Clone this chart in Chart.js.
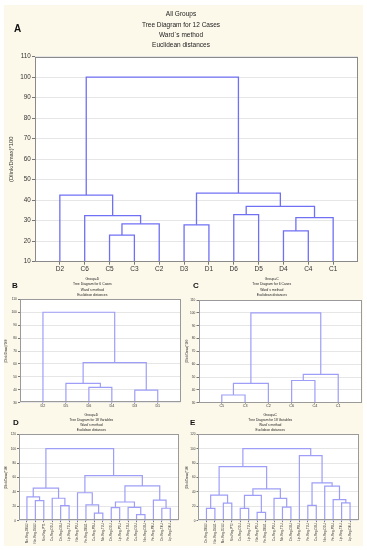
<!DOCTYPE html>
<html><head><meta charset="utf-8">
<script src="https://cdn.jsdelivr.net/npm/chart.js@4.4.0/dist/chart.umd.min.js"></script>
<style>
html,body{margin:0;padding:0;background:#fff;width:367px;height:550px;overflow:hidden;}
#bg{position:absolute;left:4px;top:5px;width:359px;height:541px;background:#fcf8ea;}
.cv{position:absolute;}
.cv canvas{display:block;}
.lbl{position:absolute;font-family:"Liberation Sans",Arial,sans-serif;font-weight:bold;color:#111;line-height:1;}
</style></head><body>
<div id="bg"></div>
<div class="cv" style="left:4px;top:5px"><canvas id="cA" width="359" height="273"></canvas></div>
<div class="cv" style="left:4px;top:274px"><canvas id="cB" width="178" height="136"></canvas></div>
<div class="cv" style="left:182px;top:274px"><canvas id="cC" width="181" height="136"></canvas></div>
<div class="cv" style="left:4px;top:408px"><canvas id="cD" width="178" height="140"></canvas></div>
<div class="cv" style="left:182px;top:408px"><canvas id="cE" width="181" height="140"></canvas></div>
<div class="lbl" style="left:14px;top:23.5px;font-size:10px">A</div>
<div class="lbl" style="left:12px;top:282px;font-size:8px">B</div>
<div class="lbl" style="left:193px;top:282px;font-size:8px">C</div>
<div class="lbl" style="left:13px;top:419px;font-size:8px">D</div>
<div class="lbl" style="left:190px;top:419px;font-size:8px">E</div>
<script>
// ---------------- DATA ----------------
// Panel A: All Groups, 12 cases (leaf order as displayed)
const leavesA = ['D2','C6','C5','C3','C2','D3','D1','D6','D5','D4','C4','C1'];
// merges: negative = leaf number (1-based, display order), positive = earlier merge row
const mergesA = [[-3,-4],[-10,-11],[-6,-7],[1,-5],[2,-12],[-2,4],[-8,-9],[7,5],[-1,6],[3,8],[9,10]];
const heightsA = [23,25,28,28.5,31.5,32.5,33,37,42.5,43.5,100];
const yTicksA = [10,110,10];

// Panel B: Group=D, 6 cases
const leavesB = ['D2','D5','D6','D4','D3','D1'];
const mergesB = [[-5,-6],[-3,-4],[-2,2],[3,1],[-1,4]];
const heightsB = [39.7,41.8,45,61,100];
const yTicksB = [30,110,10];

// Panel C: Group=C, 6 cases
const leavesC = ['C5','C3','C2','C6','C4','C1'];
const mergesC = [[-1,-2],[1,-3],[-4,-5],[3,-6],[2,4]];
const heightsC = [36,45,47.3,52,100];
const yTicksC = [30,110,10];

// Panel D: Group=D, 18 variables
const leavesD = ['Mn-Reg-D0U2','Nin-Reg-D4U2','Nin-Reg-PT1','Cu-Reg-D1U','Ctr-Reg-D3U','Lip-Reg-T1U','Nin-Reg-P2U','Fe-Reg-D0U1','Cu-Reg-P3U','Mn-Reg-T2U','Ctr-Reg-D1U','Lip-Reg-P1U','Fe-Reg-T3U','Cu-Reg-D2U','Nin-Reg-D3U','Fe-Reg-P4U','Ctr-Reg-T4U','Lip-Reg-D4U'];
const mergesD = [[-14,-15],[-9,-10],[-17,-18],[-11,-12],[-13,1],[-5,-6],[-8,2],[4,5],[-2,-3],[-16,3],[-4,6],[-1,9],[-7,7],[12,11],[8,10],[13,15],[14,16]];
const heightsD = [8.5,10.4,17.3,18.2,18.6,20.8,22,26,27.8,28.6,31.2,33,38.8,45.3,48.3,62.5,100];
const yTicksD = [0,120,20];

// Panel E: Group=C, 18 variables
const leavesE = ['Ctr-Reg-D0U2','Nin-Reg-D4U1','Mn-Reg-D2U2','Nin-Reg-PT2','Cu-Reg-D1U','Lip-Reg-T2U','Nin-Reg-P1U','Fe-Reg-D0U1','Cu-Reg-P2U','Mn-Reg-T1U','Ctr-Reg-D3U','Lip-Reg-P3U','Fe-Reg-T2U','Cu-Reg-D3U','Nin-Reg-D1U','Fe-Reg-P3U','Lip-Reg-T4U','Lip-Reg-D4U'];
const mergesE = [[-7,-8],[-1,-2],[-5,-6],[-10,-11],[-13,-14],[-3,-4],[-17,-18],[-16,7],[-9,4],[3,1],[2,6],[10,9],[-15,8],[5,13],[11,12],[-12,14],[15,16]];
const heightsE = [11.5,17.2,17.2,18.9,21.2,24.5,24.7,29.2,31,35.2,35.6,44.2,48,52.5,75.2,90.5,100];
const yTicksE = [0,120,20];

const titleA = ['All Groups','Tree Diagram for 12 Cases','Ward`s method','Euclidean distances'];
const titleB = ['Group=D','Tree Diagram for 6 Cases','Ward`s method','Euclidean distances'];
const titleC = ['Group=C','Tree Diagram for 6 Cases','Ward`s method','Euclidean distances'];
const titleD = ['Group=D','Tree Diagram for 18 Variables','Ward`s method','Euclidean distances'];
const titleE = ['Group=C','Tree Diagram for 18 Variables','Ward`s method','Euclidean distances'];
const yAxisTitle = '(Dlink/Dmax)*100';

// ---------------- DRAWING ----------------
const FONT = '"Liberation Sans", Arial, sans-serif';

function buildLinks(merges, heights, yBase){
  const nodes = [];
  const pos = r => r < 0 ? {x:-r, y:yBase} : nodes[r-1];
  return merges.map((m,i)=>{
    const a = pos(m[0]), b = pos(m[1]), h = heights[i];
    nodes.push({x:(a.x+b.x)/2, y:h});
    return [{x:a.x,y:a.y},{x:a.x,y:h},{x:b.x,y:h},{x:b.x,y:b.y}];
  });
}

const framePlugin = {
  id:'frame',
  beforeDraw(c){
    const a=c.chartArea, ctx=c.ctx;
    ctx.save(); ctx.fillStyle='#ffffff';
    ctx.fillRect(a.left,a.top,a.right-a.left,a.bottom-a.top); ctx.restore();
  },
  afterDraw(c){
    const a=c.chartArea, ctx=c.ctx, o=c.options.plugins.frame||{};
    ctx.save(); ctx.strokeStyle=o.color||'#888'; ctx.lineWidth=1;
    ctx.strokeRect(Math.round(a.left)+0.5,Math.round(a.top)+0.5,Math.round(a.right-a.left)-1,Math.round(a.bottom-a.top)-1);
    ctx.restore();
  }
};

function panel(id, leaves, merges, heights, yT, titleLines, s){
  const links = buildLinks(merges, heights, yT[0]);
  new Chart(document.getElementById(id), {
    type:'scatter',
    data:{datasets: links.map(l=>({data:l, showLine:true, borderColor:s.lineColor, borderWidth:s.lineWidth,
      pointRadius:0, pointHoverRadius:0, tension:0, fill:false, clip:false}))},
    options:{
      responsive:false, animation:false, events:[],
      layout:{padding:{left:0,right:s.pr,top:0,bottom:0}},
      plugins:{
        legend:{display:false}, tooltip:{enabled:false},
        frame:{color:s.frame},
        title:{display:true, text:titleLines, color:'#222',
          font:{family:FONT, size:s.ts, lineHeight:s.tlh, weight:'normal'},
          padding:{top:s.tpt, bottom:s.tpb}}
      },
      scales:{
        x:{type:'linear', min:0, max:leaves.length+1,
          afterBuildTicks:(sc)=>{sc.ticks = leaves.map((_,i)=>({value:i+1}));},
          ticks:{autoSkip:false, color:'#333', font:{family:FONT,size:s.xfs}, padding:s.xpad,
            minRotation:s.rot, maxRotation:s.rot,
            callback:(v)=>leaves[v-1] || ''},
          grid:{drawOnChartArea:false, tickLength:s.xtl, color:'#777', tickColor:'#777'},
          border:{display:false},
          afterFit:(sc)=>{sc.height=s.xh;}
        },
        y:{min:yT[0], max:yT[1],
          ticks:{stepSize:yT[2], color:'#333', font:{family:FONT,size:s.yfs}, padding:s.ypad},
          grid:{color:'#e6e6e6', tickColor:'#777', tickLength:s.ytl},
          border:{display:false},
          title:{display:true, text:yAxisTitle, color:'#333', font:{family:FONT,size:s.ytfs}, padding:{top:s.ytp,bottom:0}},
          afterFit:(sc)=>{sc.width=s.yw;}
        }
      }
    },
    plugins:[framePlugin]
  });
}

panel('cA', leavesA, mergesA, heightsA, yTicksA, titleA,
  {lineColor:'rgb(112,112,245)', lineWidth:1.3, frame:'#8a8a8a', pr:5, ts:6.5, tlh:10.2/6.5, tpt:4.5, tpb:6.4,
   xfs:6.5, xpad:0.5, xtl:3, rot:0, xh:16.3, yfs:6.3, ypad:1.3, ytl:3, ytfs:5.8, ytp:4.4, yw:31});
const smallCase = {lineColor:'rgb(158,158,248)', lineWidth:1.2, frame:'#9a9a9a', ts:3.4, tlh:5.3/3.4, tpt:2.6,
   xfs:3.7, xpad:0.3, xtl:1, rot:0, xh:7.3, yfs:3.2, ypad:1.2, ytl:2, ytfs:3};
panel('cB', leavesB, mergesB, heightsB, yTicksB, titleB, Object.assign({}, smallCase, {pr:1.3, tpb:1.5, ytp:0.2, yw:16}));
panel('cC', leavesC, mergesC, heightsC, yTicksC, titleC, Object.assign({}, smallCase, {pr:1.5, tpb:2.2, ytp:3.2, yw:16.5}));
const smallVar = {lineColor:'rgb(158,158,248)', lineWidth:1.2, frame:'#9a9a9a', ts:3.3, tlh:5.1/3.3, tpt:4.15, tpb:1.75,
   xfs:3.1, xpad:1, xtl:1.5, rot:90, xh:27.3, yfs:3.1, ypad:1, ytl:1.5, ytfs:3};
panel('cD', leavesD, mergesD, heightsD, yTicksD, titleD, Object.assign({}, smallVar, {pr:3.3, ytp:0.2, yw:14.5}));
panel('cE', leavesE, mergesE, heightsE, yTicksE, titleE, Object.assign({}, smallVar, {pr:4.5, ytp:3.2, yw:16}));
</script>
</body></html>
